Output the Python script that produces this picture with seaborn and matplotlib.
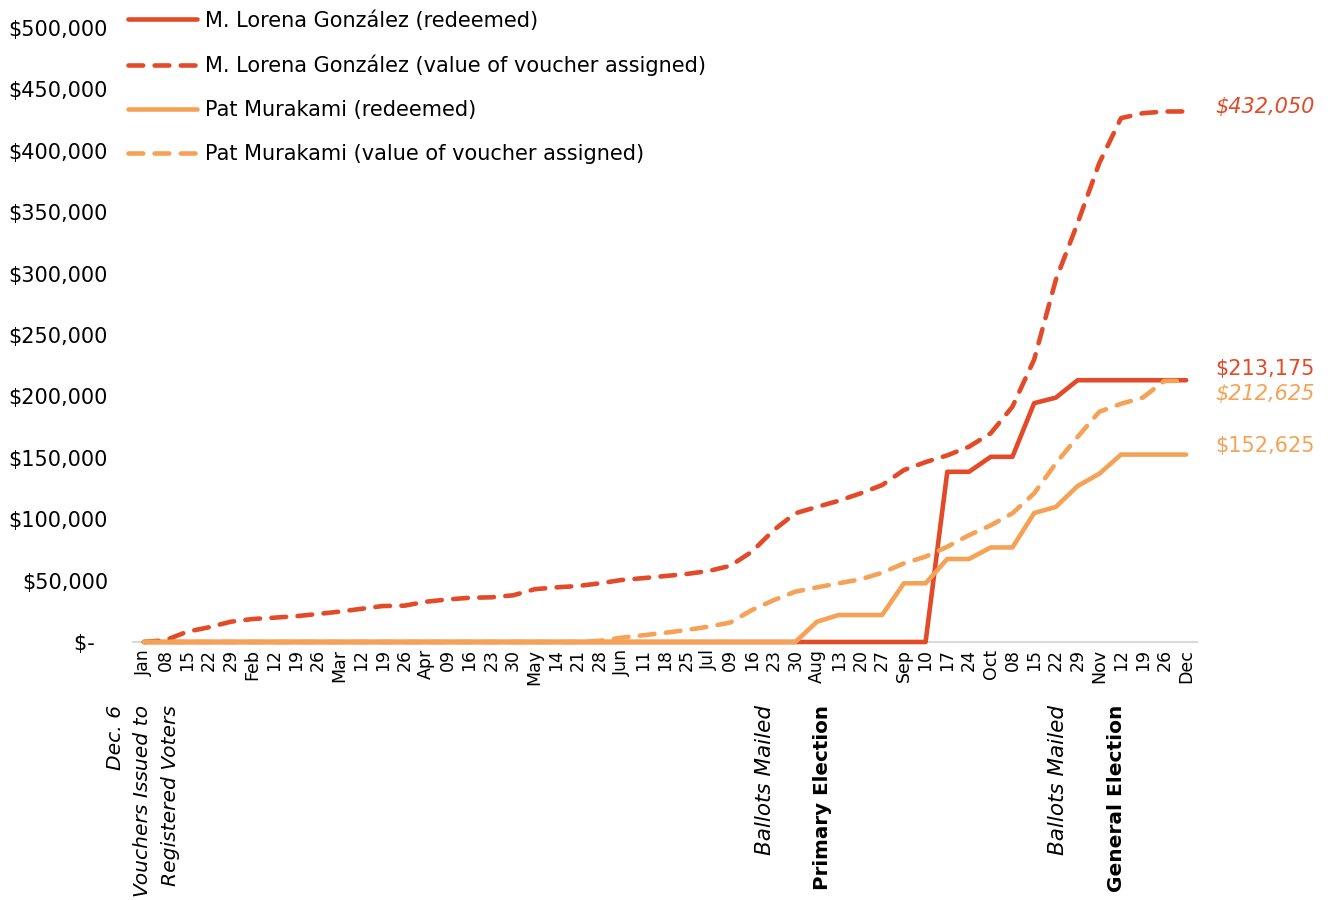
import numpy as np
import pandas as pd
import matplotlib
matplotlib.use("Agg")
import matplotlib.pyplot as plt
from matplotlib.lines import Line2D
import seaborn as sns

# ---------------- data ----------------
tick_labels = ["Jan", "08", "15", "22", "29", "Feb", "12", "19", "26", "Mar", "12", "19", "26",
               "Apr", "09", "16", "23", "30", "May", "14", "21", "28", "Jun", "11", "18", "25",
               "Jul", "09", "16", "23", "30", "Aug", "13", "20", "27", "Sep", "10", "17", "24",
               "Oct", "08", "15", "22", "29", "Nov", "12", "19", "26", "Dec"]

gonzalez_redeemed = [0] * 37 + [138600, 138600, 150800, 150800, 194500, 199000,
                                213175, 213175, 213175, 213175, 213175, 213175]

gonzalez_assigned = [0, 1500, 8400, 12000, 16500, 18700, 19800, 21000, 22800, 24700,
                     27000, 29300, 29600, 32800, 34700, 36000, 36400, 38000, 43000, 44500,
                     45600, 47800, 50500, 52000, 53700, 55400, 57800, 62000, 73500, 91000,
                     104800, 110000, 115000, 121000, 127800, 140000, 146500, 152000, 159000,
                     170000, 191600, 230000, 295000, 341000, 390000, 426600, 430600, 432000,
                     432050]

murakami_redeemed = [0] * 31 + [16500, 22000, 22000, 22000, 47800, 47800, 67600, 67600,
                                77000, 77000, 105000, 110000, 127000, 137000,
                                152625, 152625, 152625, 152625]

murakami_assigned = [0] * 21 + [1000, 3500, 5500, 7500, 9800, 12500, 15800, 26000, 34000,
                                41000, 44500, 47800, 51000, 56400, 64000, 69500, 77600,
                                87000, 95000, 104800, 121000, 145500, 167000, 187500,
                                194000, 199000, 212625, 212625]

series_names = ["M. Lorena González (redeemed)",
                "M. Lorena González (value of voucher assigned)",
                "Pat Murakami (redeemed)",
                "Pat Murakami (value of voucher assigned)"]
series_values = [gonzalez_redeemed, gonzalez_assigned, murakami_redeemed, murakami_assigned]

end_labels = ["$213,175", "$432,050", "$152,625", "$212,625"]

RED = "#E24A28"
ORANGE = "#F5A256"
colors = [RED, RED, ORANGE, ORANGE]
DASH = (3.2, 2.5)
dash_styles = ["", DASH, "", DASH]

rows = []
for name, vals in zip(series_names, series_values):
    for i, v in enumerate(vals):
        rows.append({"idx": i, "value": v, "series": name})
df = pd.DataFrame(rows)

# ---------------- figure ----------------
sns.set_theme(style="white")
plt.rcParams["font.family"] = ["DejaVu Sans"]
plt.rcParams["text.color"] = "black"
plt.rcParams["xtick.color"] = "black"
plt.rcParams["ytick.color"] = "black"

W, H = 1328, 900
fig = plt.figure(figsize=(W / 100, H / 100), dpi=100)
ax = fig.add_axes([133 / W, 1 - 642 / H, (1197 - 133) / W, (642 - 28) / H])

LW = 3.3
sns.lineplot(data=df, x="idx", y="value", hue="series", style="series",
             hue_order=series_names, style_order=series_names,
             palette=dict(zip(series_names, colors)),
             dashes=dict(zip(series_names, dash_styles)),
             linewidth=LW, legend=False, ax=ax, clip_on=False)
for ln in ax.get_lines():
    ln.set_dash_capstyle("round")
    ln.set_solid_capstyle("round")
    ln.set_solid_joinstyle("round")

ax.set_xlim(-0.5, len(tick_labels) - 0.5)
ax.set_ylim(0, 500000)
ax.set_xticks(range(len(tick_labels)))
ax.set_xticklabels(tick_labels, rotation=90, fontsize=12.5)
yt = np.arange(0, 500001, 50000)
ax.set_yticks(yt)
ax.set_yticklabels(["$-  " if v == 0 else f"${v:,.0f}" for v in yt], fontsize=15)
ax.tick_params(axis="y", length=0, pad=18)
ax.tick_params(axis="x", length=0, pad=5)
ax.set_xlabel("")
ax.set_ylabel("")
for s in ["top", "right", "left"]:
    ax.spines[s].set_visible(False)
ax.spines["bottom"].set_color("#D9D9D9")
ax.spines["bottom"].set_linewidth(1.5)
ax.spines["bottom"].set_zorder(0)
ax.grid(False)

# legend
handles = []
for c, d in zip(colors, dash_styles):
    h = Line2D([0], [0], color=c, linewidth=LW)
    if d:
        h.set_dashes(d)
    h.set_dash_capstyle("round")
    h.set_solid_capstyle("round")
    handles.append(h)
leg = fig.legend(handles, series_names, loc="upper left",
                 bbox_to_anchor=(128 / W, 1 - 10 / H), frameon=False,
                 fontsize=15, handlelength=3.3, handletextpad=0.4,
                 labelspacing=1.16, borderaxespad=0, borderpad=0)

# end labels
offsets = [8, 3, 6, -9.5]
styles = ["normal", "italic", "normal", "italic"]
for name, vals, lab, c, dy, st in zip(series_names, series_values, end_labels,
                                      colors, offsets, styles):
    ax.annotate(lab, xy=(len(vals) - 1, vals[-1]), xytext=(21, dy),
                textcoords="offset points", ha="left", va="center",
                fontsize=15, color=c, style=st, annotation_clip=False)

# event annotations below the axis
def event(xpix, text, size, **kw):
    fig.text(xpix / W, 1 - 705 / H, text, rotation=90, rotation_mode="anchor",
             ha="right", va="center", fontsize=size, color="black", **kw)

event(143, "Dec. 6\nVouchers Issued to\nRegistered Voters", 14.6, style="italic",
      multialignment="right", linespacing=1.55)
event(765, "Ballots Mailed", 15.5, style="italic")
event(822, "Primary Election", 14.3, fontweight="bold")
event(1058, "Ballots Mailed", 15.5, style="italic")
event(1117, "General Election", 14.5, fontweight="bold")

fig.savefig("out.png", dpi=100)
